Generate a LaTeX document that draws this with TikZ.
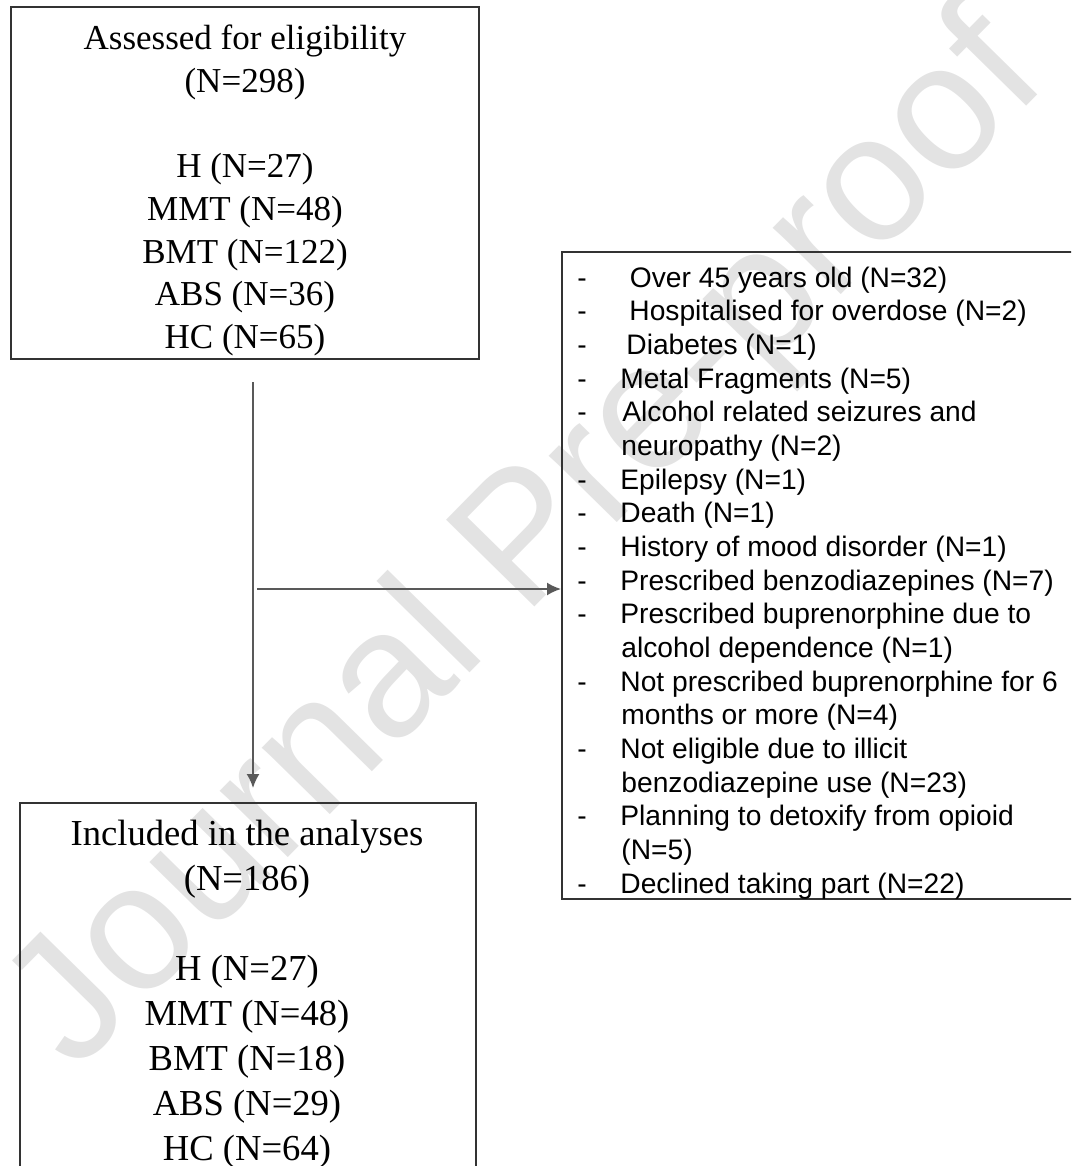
\documentclass[tikz,border=0pt]{standalone}
\usepackage{fontspec}
\setmainfont{Liberation Serif}
\newfontfamily\arialf{Liberation Sans}
\usetikzlibrary{arrows.meta}
\begin{document}
\begin{tikzpicture}[x=0.5pt,y=-0.5pt,
  flowbox/.style={draw=black!80, line width=1pt, rectangle, inner sep=0pt},
  toptext/.style={anchor=north, inner sep=0pt, align=center, font=\fontsize{17.5pt}{21.35pt}\selectfont},
  bottext/.style={anchor=north, inner sep=0pt, align=center, font=\fontsize{18.3pt}{22.5pt}\selectfont},
  item/.style={anchor=base west, inner sep=0pt, font=\arialf\fontsize{14.1pt}{16.8pt}\selectfont},
  arr/.style={draw=black!65, line width=0.9pt, -{Latex[length=7pt,width=6.5pt]}},
  watermark/.style={font=\arialf\fontsize{90pt}{90pt}\selectfont, text=black!11, rotate=45.5, inner sep=0pt}
]
\useasboundingbox (0,0) rectangle (1071,1166);
\clip (0,0) rectangle (1071,1166);
\node[watermark] (wm) at (530,545) {Journal Pre-proof};

\node[flowbox, minimum width=234pt, minimum height=176pt] (elig) at (245,183) {};
\node[toptext] (eligtext) at (245,24.5) {Assessed for eligibility\\(N=298)\\[21.35pt]H (N=27)\\MMT (N=48)\\BMT (N=122)\\ABS (N=36)\\HC (N=65)};

\node[flowbox, minimum width=228pt, minimum height=198.5pt] (incl) at (248,1001.5) {};
\node[bottext] (incltext) at (247,820) {Included in the analyses\\(N=186)\\[22.5pt]H (N=27)\\MMT (N=48)\\BMT (N=18)\\ABS (N=29)\\HC (N=64)};

\node[flowbox, minimum width=269pt, minimum height=323.5pt] (excl) at (831,575.5) {};
\foreach \d/\xo/\t [count=\i from 0] in {
  1/629.5/{Over 45 years old (N=32)},
  1/629/{Hospitalised for overdose (N=2)},
  1/626/{Diabetes (N=1)},
  1/620/{Metal Fragments (N=5)},
  1/622/{Alcohol related seizures and},
  0/621/{neuropathy (N=2)},
  1/620/{Epilepsy (N=1)},
  1/620/{Death (N=1)},
  1/620/{History of mood disorder (N=1)},
  1/620/{Prescribed benzodiazepines (N=7)},
  1/620/{Prescribed buprenorphine due to},
  0/621/{alcohol dependence (N=1)},
  1/620/{Not prescribed buprenorphine for 6},
  0/621/{months or more (N=4)},
  1/620/{Not eligible due to illicit},
  0/621/{benzodiazepine use (N=23)},
  1/620/{Planning to detoxify from opioid},
  0/621/{(N=5)},
  1/620/{Declined taking part (N=22)}}{
  \node[item] (it\i) at (\xo,287+33.67*\i) {\t};
  \ifnum\d=1 \node[item] (dash\i) at (577,287+33.67*\i) {-};\fi
}

\coordinate (vtop) at (253,382);
\coordinate (hstart) at (257,589);
\draw[arr, shorten >=7pt] (vtop) -- (vtop |- incl.north);
\draw[arr] (hstart) -- (hstart -| excl.west);
\end{tikzpicture}
\end{document}
